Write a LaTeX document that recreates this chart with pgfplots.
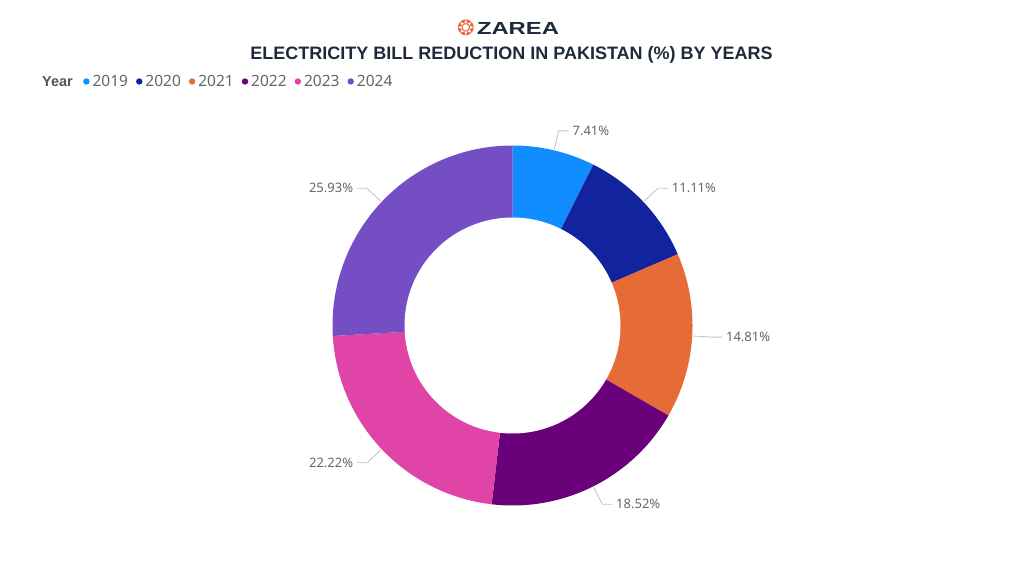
\documentclass[border=0pt]{standalone}
\usepackage{fontspec}
\setmainfont{Noto Sans}
\newfontfamily\titlefont{Liberation Sans}
\newfontfamily\symfont{DejaVu Sans}
\usepackage{pgfplots}
\usepackage{pgfplotstable}
\pgfplotsset{compat=1.18}

\definecolor{col0}{HTML}{118DFF}
\definecolor{col1}{HTML}{12239E}
\definecolor{col2}{HTML}{E66C37}
\definecolor{col3}{HTML}{6B007B}
\definecolor{col4}{HTML}{E044A7}
\definecolor{col5}{HTML}{744EC2}
\definecolor{titlecol}{HTML}{1E2A3B}
\definecolor{labelcol}{HTML}{666666}
\definecolor{leadercol}{HTML}{C4C4C4}
\definecolor{legendhead}{HTML}{555555}
\definecolor{logocol}{HTML}{E8673F}

% share of each year, percent
\pgfplotstableread{
year share
2019 7.41
2020 11.11
2021 14.81
2022 18.52
2023 22.22
2024 25.93
}\sharetable

% donut centre and radii, in pixels of the 1024x576 frame
\def\cx{512.5}
\def\cy{250.5}
\def\ro{180}
\def\ri{108}

\newcommand\slice[3]{%
  \addplot[fill=#3, draw=none, domain=#1:#2, samples=90]
    ({\cx+\ro*cos(x)}, {\cy+\ro*sin(x)}) -- (\cx,\cy) -- cycle;
}
\newcommand\leader[7]{%
  \draw[leadercol, line width=0.9pt] (axis cs:#1,#2) -- (axis cs:#3,#4) -- (axis cs:#5,#4)
    node[anchor=#6, inner sep=3.5pt, text=labelcol, font=\fontsize{13}{15}\selectfont] {#7\%};
}

\begin{document}
\begin{tikzpicture}
% slices run clockwise from 12 o'clock
\gdef\slicecmds{}
\gdef\labelcmds{}
\gdef\acc{90}
\foreach \i in {0,...,5}{%
  \pgfplotstablegetelem{\i}{share}\of\sharetable
  \let\val\pgfplotsretval
  \pgfmathsetmacro\nxt{\acc-3.6*\val}%
  \pgfmathsetmacro\mid{(\acc+\nxt)/2}%
  \pgfmathsetmacro\xa{\cx+(\ro+1)*cos(\mid)}%
  \pgfmathsetmacro\ya{\cy+(\ro+1)*sin(\mid)}%
  \pgfmathsetmacro\xb{\cx+200*cos(\mid)}%
  \pgfmathsetmacro\yb{\cy+200*sin(\mid)}%
  \pgfmathparse{cos(\mid)>0 ? 1 : -1}%
  \let\sgn\pgfmathresult
  \pgfmathsetmacro\xc{\xb+10*\sgn}%
  \ifdim\sgn pt>0pt \def\anch{west}\else\def\anch{east}\fi
  \xdef\slicecmds{\unexpanded\expandafter{\slicecmds}\noexpand\slice{\nxt}{\acc}{col\i}}%
  \xdef\labelcmds{\unexpanded\expandafter{\labelcmds}\noexpand\leader{\xa}{\ya}{\xb}{\yb}{\xc}{\anch}{\val}}%
  \xdef\acc{\nxt}%
}
\begin{axis}[
  width=1024pt, height=576pt, scale only axis,
  xmin=0, xmax=1024, ymin=0, ymax=576,
  hide axis, clip=false,
  legend entries={2019,2020,2021,2022,2023,2024},
  legend columns=-1,
  legend image code/.code={\fill[#1] (0pt,0pt) circle (3.2pt);},
  legend style={at={(axis cs:83,494.5)}, anchor=west, draw=none, fill=none,
    font=\fontsize{15.5}{17}\selectfont, text=labelcol,
    inner sep=0pt, nodes={inner sep=1pt},
    /tikz/every odd column/.append style={column sep=2pt},
    /tikz/every even column/.append style={column sep=7pt}},
]
\slicecmds
\addplot[fill=white, draw=none, domain=0:360, samples=180, forget plot]
  ({\cx+\ri*cos(x)}, {\cy+\ri*sin(x)}) -- cycle;
\labelcmds
\node[text=titlecol, font=\titlefont\bfseries\fontsize{18}{20}\selectfont]
  at (axis cs:511.5,521) {ELECTRICITY BILL REDUCTION IN PAKISTAN (\%) BY YEARS};
\node[text=logocol, font=\symfont\fontsize{21}{21}\selectfont] at (axis cs:466,548) {❂};
\node[text=titlecol, font=\titlefont\bfseries\fontsize{17.5}{17}\selectfont]
  at (axis cs:518,548) {\scalebox{1.36}[1]{ZAREA}};
\node[anchor=west, inner sep=0pt, text=legendhead, font=\titlefont\bfseries\fontsize{14.5}{17}\selectfont]
  at (axis cs:42,494.5) {Year};
\end{axis}
\path (current axis.south west) rectangle (current axis.north east);
\end{tikzpicture}
\end{document}
